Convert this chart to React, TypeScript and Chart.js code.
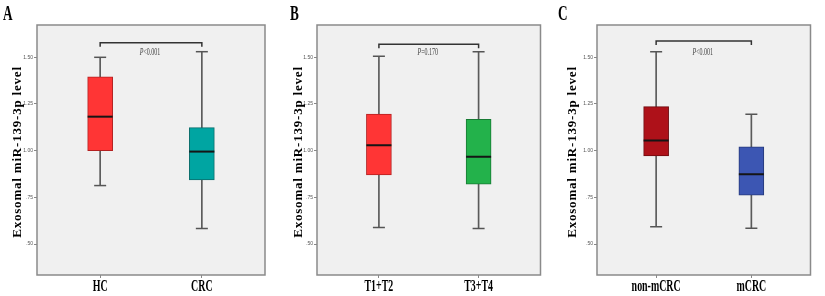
import React, { useEffect, useRef } from "react";
import { Chart, registerables } from "chart.js";

Chart.register(...registerables);

// ---------- data ----------
const yTickValues = [0.5, 0.75, 1.0, 1.25, 1.5];
const yTickLabels = [".50", ".75", "1.00", "1.25", "1.50"];
const yTitle = "Exosomal miR-139-3p level";
const panelLetters = ["A", "B", "C"];

const categoriesA = ["HC", "CRC"];
const minA = [0.813, 0.583];
const q1A = [1.0, 0.843];
const medA = [1.182, 0.995];
const q3A = [1.396, 1.123];
const maxA = [1.5, 1.53];

const categoriesB = ["T1+T2", "T3+T4"];
const minB = [0.589, 0.583];
const q1B = [0.87, 0.82];
const medB = [1.029, 0.968];
const q3B = [1.196, 1.168];
const maxB = [1.505, 1.53];

const categoriesC = ["non-mCRC", "mCRC"];
const minC = [0.593, 0.585];
const q1C = [0.972, 0.762];
const medC = [1.054, 0.874];
const q3C = [1.236, 1.021];
const maxC = [1.53, 1.195];

const pLabels = ["P<0.001", "P=0.170", "P<0.001"];
const bracketLevels = [1.578, 1.57, 1.587];
const bracketEnds = [1.557, 1.549, 1.566];

// ---------- styles ----------
const fillA = ["#ff3535", "#00a5a2"];
const edgeA = ["#b42020", "#0a6e6c"];
const fillB = ["#ff3535", "#23b24b"];
const edgeB = ["#b42020", "#187a34"];
const fillC = ["#ae1119", "#3c56b3"];
const edgeC = ["#6e0a0e", "#26397a"];

const CANVAS_H = 296;

type PanelProps = {
  idx: number;
  categories: string[];
  mins: number[];
  q1s: number[];
  meds: number[];
  q3s: number[];
  maxs: number[];
  fills: string[];
  edges: string[];
  offsetX: number;
  canvasW: number;
  areaLeft: number;
  areaRight: number;
  letterX: number;
  titleDx: number;
};

function drawCondensed(ctx: CanvasRenderingContext2D, text: string, x: number, y: number, font: string, sx: number) {
  ctx.save();
  ctx.translate(x, y);
  ctx.scale(sx, 1);
  ctx.font = font;
  ctx.textAlign = "center";
  ctx.textBaseline = "alphabetic";
  ctx.fillText(text, 0, 0);
  ctx.restore();
}

function Panel(p: PanelProps) {
  const ref = useRef<HTMLCanvasElement | null>(null);
  useEffect(() => {
    if (!ref.current) return;
    const xs = p.categories.map((_, i) => i + 1);
    const decor = {
      id: "decor",
      beforeDraw(chart: any) {
        const { ctx, chartArea } = chart;
        ctx.save();
        ctx.fillStyle = "#ffffff";
        ctx.fillRect(0, 0, chart.width, chart.height);
        ctx.fillStyle = "#f0f0f0";
        ctx.fillRect(chartArea.left, chartArea.top, chartArea.right - chartArea.left, chartArea.bottom - chartArea.top);
        ctx.restore();
      },
      afterDraw(chart: any) {
        const { ctx, chartArea } = chart;
        const xScale = chart.scales.x;
        const yScale = chart.scales.y;
        ctx.save();
        // frame
        ctx.strokeStyle = "#8a8a8a";
        ctx.lineWidth = 1.5;
        ctx.strokeRect(chartArea.left, chartArea.top, chartArea.right - chartArea.left, chartArea.bottom - chartArea.top);
        // panel letter
        ctx.fillStyle = "#000";
        ctx.save();
        ctx.translate(p.letterX, 20);
        ctx.scale(0.66, 1);
        ctx.font = "bold 20px 'Liberation Serif'";
        ctx.textAlign = "left";
        ctx.fillText(panelLetters[p.idx], 0, 0);
        ctx.restore();
        // x labels
        xs.forEach((v, i) => {
          const px = xScale.getPixelForValue(v);
          drawCondensed(ctx, p.categories[i], px, 291, "bold 16px 'Liberation Serif'", 0.62);
        });
        // p label
        const label = pLabels[p.idx];
        const midX = (xScale.getPixelForValue(1) + xScale.getPixelForValue(2)) / 2 - 1;
        const py = yScale.getPixelForValue(1.5) - 2.5;
        ctx.save();
        ctx.translate(midX, py);
        ctx.scale(0.6, 1);
        ctx.fillStyle = "#444";
        ctx.font = "italic 10px 'Liberation Serif'";
        const wP = ctx.measureText(label[0]).width;
        ctx.font = "10px 'Liberation Serif'";
        const wR = ctx.measureText(label.slice(1)).width;
        const start = -(wP + wR) / 2;
        ctx.textAlign = "left";
        ctx.font = "italic 10px 'Liberation Serif'";
        ctx.fillText(label[0], start, 0);
        ctx.font = "10px 'Liberation Serif'";
        ctx.fillText(label.slice(1), start + wP, 0);
        ctx.restore();
        // y title
        ctx.save();
        ctx.translate(chartArea.left - p.titleDx, 152);
        ctx.rotate(-Math.PI / 2);
        ctx.font = "bold 13px 'Liberation Serif'";
        (ctx as any).letterSpacing = "0.8px";
        ctx.textAlign = "center";
        ctx.textBaseline = "middle";
        ctx.fillStyle = "#000";
        ctx.fillText(yTitle, 0, 0);
        ctx.restore();
        ctx.restore();
      },
    };

    const chart = new Chart(ref.current, {
      type: "bar",
      data: {
        datasets: [
          {
            type: "line",
            data: xs.map((x, i) => ({ x, y: p.meds[i] })),
            showLine: false,
            pointStyle: "line",
            pointRadius: 12.5,
            pointHoverRadius: 12.5,
            pointBorderWidth: 2,
            pointBorderColor: "#151515",
            order: 0,
          } as any,
          {
            type: "line",
            data: [...xs.map((x, i) => ({ x, y: p.maxs[i] })), ...xs.map((x, i) => ({ x, y: p.mins[i] }))],
            showLine: false,
            pointStyle: "line",
            pointRadius: 6,
            pointHoverRadius: 6,
            pointBorderWidth: 1.5,
            pointBorderColor: "#555",
            order: 1,
          } as any,
          {
            type: "bar",
            data: xs.map((x, i) => ({ x, y: [p.q1s[i], p.q3s[i]] })),
            backgroundColor: p.fills,
            borderColor: p.edges,
            borderWidth: 1,
            borderSkipped: false,
            barThickness: 25,
            grouped: false,
            order: 2,
          } as any,
          {
            type: "bar",
            data: xs.map((x, i) => ({ x, y: [p.mins[i], p.maxs[i]] })),
            backgroundColor: "#5a5a5a",
            borderWidth: 0,
            barThickness: 1,
            grouped: false,
            order: 3,
          } as any,
          {
            type: "line",
            data: [
              { x: 1, y: bracketEnds[p.idx] },
              { x: 1, y: bracketLevels[p.idx] },
              { x: 2, y: bracketLevels[p.idx] },
              { x: 2, y: bracketEnds[p.idx] },
            ],
            borderColor: "#333",
            borderWidth: 1.5,
            pointRadius: 0,
            tension: 0,
            fill: false,
            order: 4,
          } as any,
        ],
      },
      options: {
        animation: false,
        responsive: false,
        maintainAspectRatio: false,
        events: [],
        layout: {
          padding: { top: 25, left: p.areaLeft - 37, right: p.canvasW - p.areaRight, bottom: 0 },
        },
        plugins: { legend: { display: false }, tooltip: { enabled: false } },
        scales: {
          x: {
            type: "linear",
            min: 0.379,
            max: 2.621,
            offset: false,
            afterBuildTicks: (s: any) => {
              s.ticks = xs.map((v) => ({ value: v }));
            },
            afterFit: (s: any) => {
              s.height = 21;
            },
            ticks: { display: false },
            grid: { offset: false, drawOnChartArea: false, drawTicks: true, tickLength: 3, color: "#888", lineWidth: 1 },
            border: { display: false },
          },
          y: {
            type: "linear",
            min: 0.334,
            max: 1.673,
            afterBuildTicks: (s: any) => {
              s.ticks = yTickValues.map((v) => ({ value: v }));
            },
            afterFit: (s: any) => {
              s.width = 37;
            },
            ticks: {
              callback: (_v: any, i: number) => yTickLabels[i],
              font: { size: 5, family: "'Liberation Sans'" },
              color: "#555",
              padding: 1,
            },
            grid: { drawOnChartArea: false, drawTicks: true, tickLength: 3, color: "#888", lineWidth: 1 },
            border: { display: false },
          },
        },
      } as any,
      plugins: [decor],
    });
    return () => chart.destroy();
  }, []);
  return (
    <canvas
      ref={ref}
      width={p.canvasW}
      height={CANVAS_H}
      style={{ position: "absolute", left: p.offsetX, top: 0, width: p.canvasW, height: CANVAS_H }}
    />
  );
}

export default function App() {
  return (
    <div style={{ position: "absolute", left: 0, top: 0, width: 825, height: 296, background: "#fff", overflow: "hidden" }}>
      <Panel idx={0} categories={categoriesA} mins={minA} q1s={q1A} meds={medA} q3s={q3A} maxs={maxA}
        fills={fillA} edges={edgeA} offsetX={0} canvasW={280} areaLeft={37} areaRight={265} letterX={3} titleDx={19} />
      <Panel idx={1} categories={categoriesB} mins={minB} q1s={q1B} meds={medB} q3s={q3B} maxs={maxB}
        fills={fillB} edges={edgeB} offsetX={280} canvasW={275} areaLeft={37} areaRight={265} letterX={10} titleDx={18} />
      <Panel idx={2} categories={categoriesC} mins={minC} q1s={q1C} meds={medC} q3s={q3C} maxs={maxC}
        fills={fillC} edges={edgeC} offsetX={555} canvasW={270} areaLeft={42} areaRight={269} letterX={3} titleDx={24} />
    </div>
  );
}
